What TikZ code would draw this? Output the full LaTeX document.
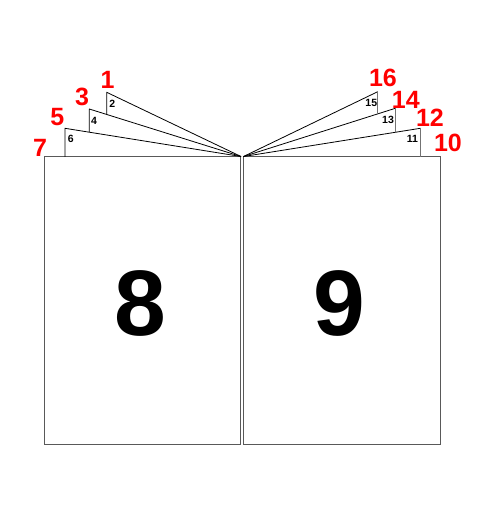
\documentclass[tikz,border=0pt]{standalone}
\usepackage{fontspec}
\setmainfont{Liberation Sans}
\begin{document}
\begin{tikzpicture}[x=1pt,y=-1pt,
  pageedge/.style={draw=black!65,line width=0.9pt},
  flapline/.style={draw=black,line width=0.8pt,line join=round},
  flapedge/.style={draw=black!55,line width=0.8pt},
  rednum/.style={anchor=base,text=red,font=\fontsize{25}{25}\selectfont\bfseries,inner sep=0pt},
  smallnum/.style={anchor=base,text=black,font=\fontsize{10.5}{10.5}\selectfont\bfseries,inner sep=0pt},
  bignum/.style={anchor=base,text=black,font=\fontsize{93}{93}\selectfont\bfseries,inner sep=0pt}]
\useasboundingbox (0,0) rectangle (501,512);
% pages
\draw[pageedge] (44.3,156.8) rectangle (240.7,444.2);
\draw[pageedge] (243.3,156.8) rectangle (440.2,444.2);
% apex points
\coordinate (la) at (241,156.5);
\coordinate (ra) at (243.5,156.5);
% left flaps
\coordinate (l6b) at (65,156.8);  \coordinate (l6t) at (65,128.3);
\coordinate (l4b) at (89.3,132);  \coordinate (l4t) at (89.3,109);
\coordinate (l2b) at (106.7,114.5); \coordinate (l2t) at (106.7,92.3);
\draw[flapline] (l6b) -- (l6t) -- (la);
\draw[flapline] (l4b) -- (l4t) -- (la);
\draw[flapline] (l2b) -- (l2t) -- (la);
% right flaps
\coordinate (r11b) at (420.3,156.8); \coordinate (r11t) at (420.3,128.3);
\coordinate (r13b) at (395.3,132);   \coordinate (r13t) at (395.3,108.3);
\coordinate (r15b) at (377.7,113.5); \coordinate (r15t) at (377.7,91.7);
\draw[flapline] (ra) -- (r11t);
\draw[flapedge] (r11t) -- (r11b);
\draw[flapline] (ra) -- (r13t);
\draw[flapedge] (r13t) -- (r13b);
\draw[flapline] (ra) -- (r15t);
\draw[flapedge] (r15t) -- (r15b);
% red page numbers
\node[rednum] (n1) at (107.7,88.7) {1};
\node[rednum] (n3) at (82,105) {3};
\node[rednum] (n5) at (57.3,125) {5};
\node[rednum] (n7) at (40,156) {7};
\node[rednum] (n16) at (383,86.7) {16};
\node[rednum] (n14) at (405.8,108.3) {14};
\node[rednum] (n12) at (430,126.7) {12};
\node[rednum] (n10) at (448,151.7) {10};
% small page numbers
\node[smallnum] (n2) at (112.3,107.7) {2};
\node[smallnum] (n4) at (94,124) {4};
\node[smallnum] (n6) at (70.7,142) {6};
\node[smallnum] (n15) at (371.3,106.7) {15};
\node[smallnum] (n13) at (388,123.3) {13};
\node[smallnum] (n11) at (412.3,142.7) {11};
% big numbers
\node[bignum] (n8) at (140.7,335) {8};
\node[bignum] (n9) at (339.5,335) {9};
\end{tikzpicture}
\end{document}
